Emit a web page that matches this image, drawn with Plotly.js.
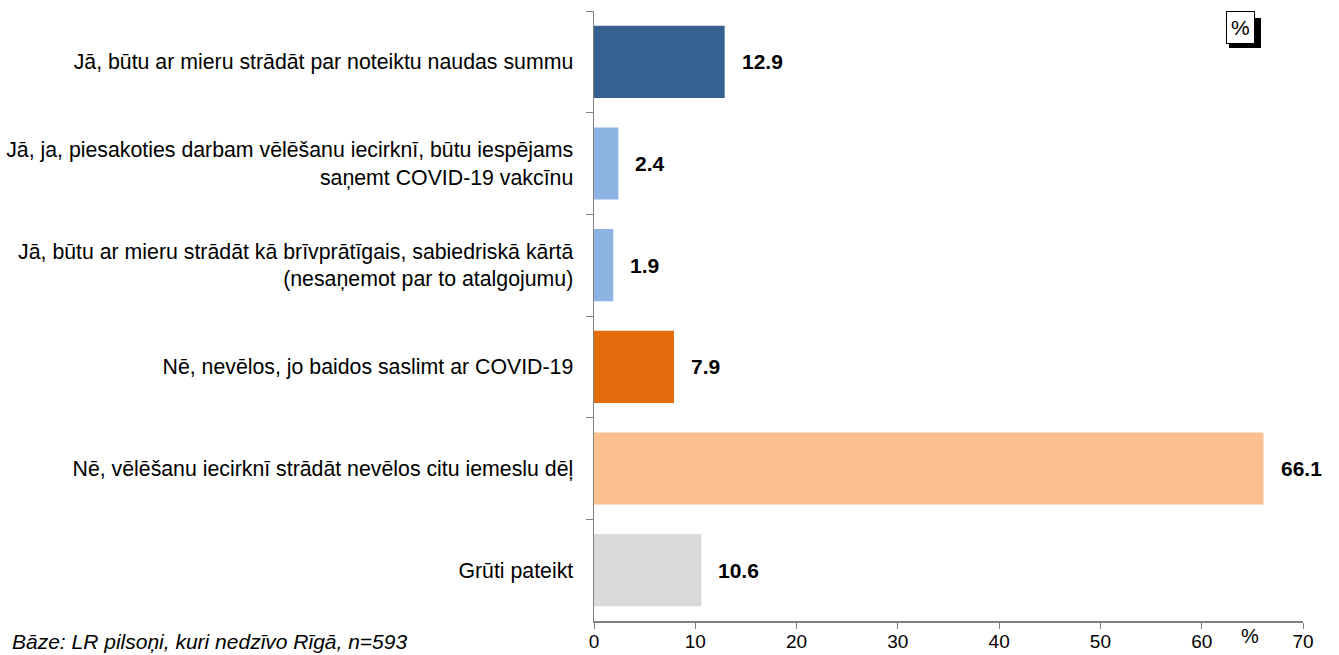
<!DOCTYPE html>
<html>
<head>
<meta charset="utf-8">
<script src="https://cdn.plot.ly/plotly-3.0.1.min.js"></script>
<style>
  body { margin: 0; background: #fff; }
  #chart { width: 1339px; height: 655px; }
</style>
</head>
<body>
<div id="chart"></div>
<script>
// answers, top to bottom
var categories = [
    'Jā, būtu ar mieru strādāt par noteiktu naudas summu',
    'Jā, ja, piesakoties darbam vēlēšanu iecirknī, būtu iespējams<br>saņemt COVID-19 vakcīnu',
    'Jā, būtu ar mieru strādāt kā brīvprātīgais, sabiedriskā kārtā<br>(nesaņemot par to atalgojumu)',
    'Nē, nevēlos, jo baidos saslimt ar COVID-19',
    'Nē, vēlēšanu iecirknī strādāt nevēlos citu iemeslu dēļ',
    'Grūti pateikt'
];
var values = [12.9, 2.4, 1.9, 7.9, 66.1, 10.6];
var barColors = ['#36608F', '#8DB3E2', '#8DB3E2', '#E46C0A', '#FAC090', '#D9D9D9'];
var xTicks = [0, 10, 20, 30, 40, 50, 60, 70];

var FONT = 'Liberation Sans, Arial, sans-serif';

var trace = {
    type: 'bar',
    orientation: 'h',
    x: values,
    y: categories,
    width: 0.71,
    marker: { color: barColors },
    hoverinfo: 'skip'
};

// value labels to the right of each bar
var notes = values.map(function (v, i) {
    return {
        x: v, y: categories[i], xref: 'x', yref: 'y',
        text: '<b>' + v.toFixed(1) + '</b>',
        showarrow: false, xanchor: 'left', xshift: 15,
        font: { family: FONT, size: 21, color: '#000' }
    };
});

// base note, bottom left
notes.push({
    x: 0, y: 0, xref: 'paper', yref: 'paper',
    text: '<i>Bāze: LR pilsoņi, kuri nedzīvo Rīgā, n=593</i>',
    showarrow: false, xanchor: 'left', yanchor: 'top',
    xshift: -584, yshift: -7,
    font: { family: FONT, size: 21, color: '#000' }
});
// unit next to the axis
notes.push({
    x: 64.8, y: 0, xref: 'x', yref: 'paper',
    text: '%', showarrow: false, yanchor: 'top', yshift: -2,
    font: { family: FONT, size: 20, color: '#000' }
});
// boxed unit, top right
notes.push({
    x: 1, y: 1, xref: 'paper', yref: 'paper',
    xanchor: 'right', yanchor: 'top',
    xshift: -48, yshift: 0,
    text: '%', showarrow: false,
    bgcolor: '#fff', bordercolor: '#000', borderwidth: 1, borderpad: 4,
    font: { family: FONT, size: 21, color: '#000' }
});

var layout = {
    width: 1339,
    height: 655,
    margin: { l: 594, r: 36, t: 11, b: 34 },
    paper_bgcolor: '#fff',
    plot_bgcolor: '#fff',
    showlegend: false,
    font: { family: FONT, size: 21, color: '#000' },
    xaxis: {
        range: [0, 70],
        tickvals: xTicks,
        ticks: 'outside',
        ticklen: 6,
        tickcolor: '#808080',
        showgrid: false,
        zeroline: false,
        showline: true,
        linecolor: '#808080',
        linewidth: 1.5,
        ticklabelstandoff: -3,
        tickfont: { family: FONT, size: 19 },
        fixedrange: true
    },
    yaxis: {
        autorange: 'reversed',
        ticks: 'outside',
        tickson: 'boundaries',
        ticklen: 7,
        tickcolor: '#808080',
        showline: true,
        linecolor: '#808080',
        linewidth: 1.5,
        showgrid: false,
        zeroline: false,
        ticklabelstandoff: 15,
        tickfont: { family: FONT, size: 21.3 },
        fixedrange: true
    },
    annotations: notes,
    shapes: [{
        // shadow behind the % box
        type: 'rect', xref: 'paper', yref: 'paper',
        x0: (1229 - 594) / 709, x1: (1261 - 594) / 709,
        y0: (621 - 48) / 610, y1: (621 - 18) / 610,
        fillcolor: '#000', line: { width: 0 }, layer: 'above'
    }]
};

Plotly.newPlot('chart', [trace], layout, { displayModeBar: false, staticPlot: true });
</script>
</body>
</html>
